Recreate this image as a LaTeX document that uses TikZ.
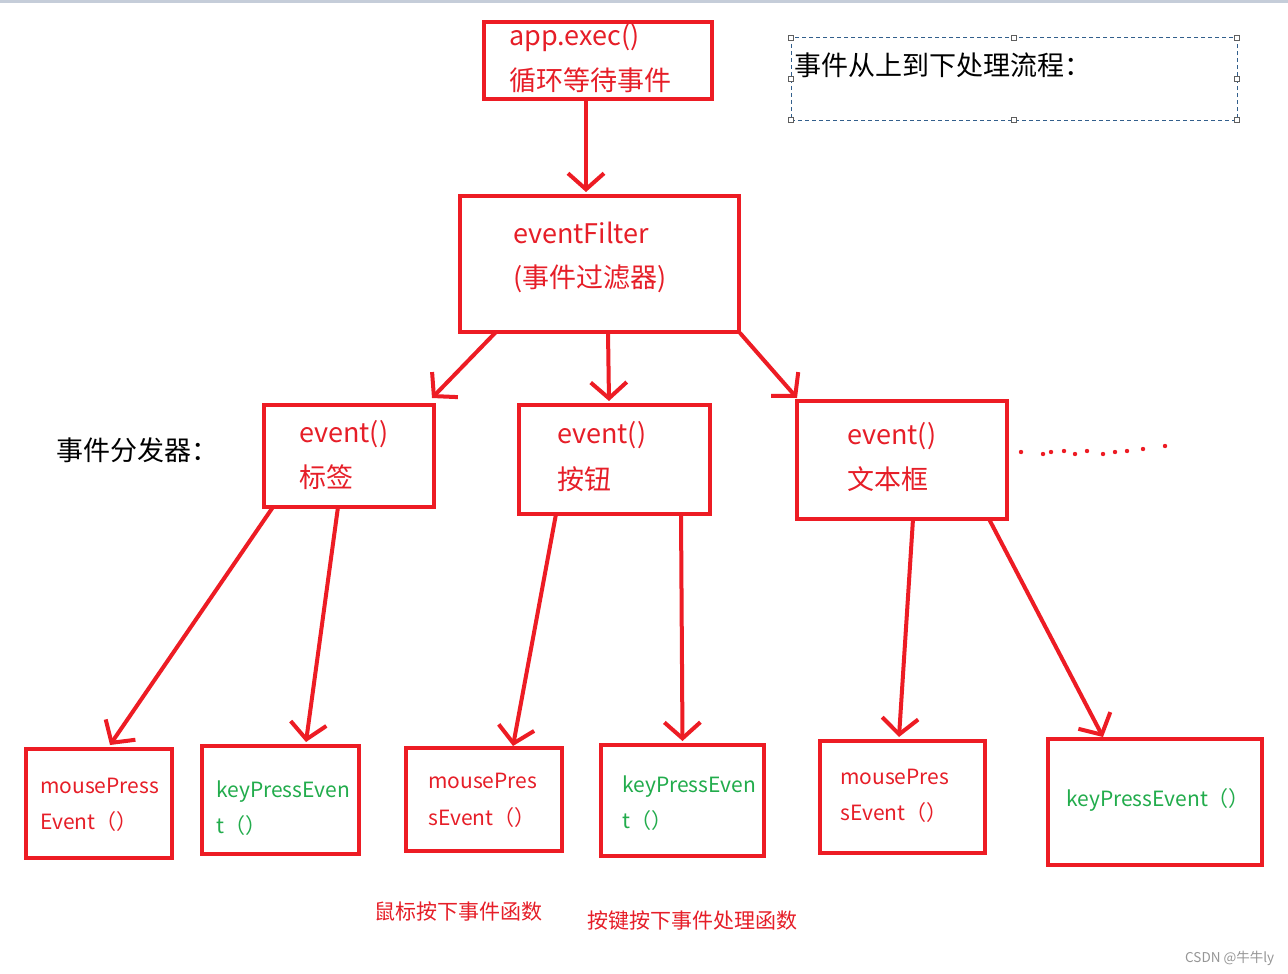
\documentclass[tikz,border=0pt]{standalone}
\usepackage{fontspec}
\setmainfont{Noto Sans CJK SC}
\usetikzlibrary{arrows.meta,calc}
\definecolor{pred}{RGB}{237,28,36}
\definecolor{tred}{RGB}{230,30,40}
\definecolor{tgreen}{RGB}{34,172,76}
\definecolor{topbar}{RGB}{197,205,217}
\definecolor{dashc}{RGB}{50,95,140}
\definecolor{handc}{RGB}{95,95,95}
\definecolor{wmark}{RGB}{150,150,150}
\begin{document}
\begin{tikzpicture}[x=1pt,y=-1pt,
  box/.style={draw=pred, line width=4.4pt, inner sep=0pt, outer sep=0pt, rectangle},
  conn/.style={draw=pred, line width=4pt, -{Straight Barb[length=16pt,width=36pt]}},
  big/.style={font=\fontsize{27}{30}\selectfont, anchor=base west, inner sep=0pt, text=tred},
  small/.style={font=\fontsize{21}{24}\selectfont, anchor=base west, inner sep=0pt, text=tred},
  smallg/.style={small, text=tgreen},
  handle/.style={draw=handc, fill=white, line width=0.8pt, minimum size=5pt, inner sep=0pt, rectangle},
  dot/.style={fill=pred}]
\useasboundingbox (0,0) rectangle (1288,974);
\fill[white] (0,0) rectangle (1288,974);
\fill[topbar] (0,0) rectangle (1288,3);

% boxes
\node[box, minimum width=228pt, minimum height=77pt] (app) at (598,60.5) {};
\node[box, minimum width=279pt, minimum height=136pt] (ef) at (599.5,264) {};
\node[box, minimum width=170pt, minimum height=102pt] (e1) at (349,456) {};
\node[box, minimum width=191pt, minimum height=109pt] (e2) at (614.5,459.5) {};
\node[box, minimum width=210pt, minimum height=118pt] (e3) at (902,460) {};
\node[box, minimum width=146pt, minimum height=109pt] (b1) at (99,803.5) {};
\node[box, minimum width=157pt, minimum height=108pt] (b2) at (280.5,800) {};
\node[box, minimum width=156pt, minimum height=103pt] (b3) at (484,799.5) {};
\node[box, minimum width=163pt, minimum height=111pt] (b4) at (682.5,800.5) {};
\node[box, minimum width=165pt, minimum height=112pt] (b5) at (902.5,797) {};
\node[box, minimum width=214pt, minimum height=126pt] (b6) at (1155,802) {};

% texts in boxes
\node[big] (appT1) at (509,46) {app.exec()};
\node[big] (appT2) at (509,91) {循环等待事件};
\node[big] (efT1) at (513,243) {eventFilter};
\node[big] (efT2) at (513,287) {(事件过滤器)};
\node[big] (e1T1) at (299,442) {event()};
\node[big] (e1T2) at (299,487) {标签};
\node[big] (e2T1) at (557,443) {event()};
\node[big] (e2T2) at (557,489) {按钮};
\node[big] (e3T1) at (847,444) {event()};
\node[big] (e3T2) at (847,489) {文本框};
\node[small] (b1T1) at (40,793) {mousePress};
\node[small] (b1T2) at (40,829) {Event（）};
\node[smallg] (b2T1) at (216,797) {keyPressEven};
\node[smallg] (b2T2) at (216,833) {t（）};
\node[small] (b3T1) at (428,788) {mousePres};
\node[small] (b3T2) at (428,825) {sEvent（）};
\node[smallg] (b4T1) at (622,792) {keyPressEven};
\node[smallg] (b4T2) at (622,828) {t（）};
\node[small] (b5T1) at (840,784) {mousePres};
\node[small] (b5T2) at (840,820) {sEvent（）};
\node[smallg] (b6T1) at (1066,806) {keyPressEvent（）};

% free texts
\node[big, text=black] (disp) at (56,460) {事件分发器：};
\node[small] (lab1) at (374,919) {鼠标按下事件函数};
\node[small] (lab2) at (587,928) {按键按下事件处理函数};
\node[font=\fontsize{13.5}{15}\selectfont, anchor=base west, inner sep=0pt, text=wmark] (wm) at (1185,962) {CSDN @牛牛ly};

% dashed text box
\node[draw=dashc, line width=1pt, dash pattern=on 4pt off 3pt, rectangle, inner sep=0pt, outer sep=0pt,
      minimum width=446pt, minimum height=82pt] (flow) at (1014,79) {};
\node[big, text=black] (flowT) at (794,75) {事件从上到下处理流程：};
\foreach \a in {north west,north,north east,west,east,south west,south,south east}
  \node[handle] at (flow.\a) {};

% connectors
\draw[conn] ([shift={(-12,0)}]app.south) -- ([shift={(-13.5,-4)}]ef.north);
\draw[conn] ([shift={(36,0)}]ef.south west) -- ([shift={(-2,-7)}]e1.north east);
\draw[conn] ([shift={(8.5,0)}]ef.south) -- ([shift={(-5.5,-4)}]e2.north);
\draw[conn] ([shift={(1,1)}]ef.south east) -- ([shift={(0,-3)}]e3.north west);
\draw[conn] ([shift={(9,0)}]e1.south west) -- ([shift={(11,-4)}]b1.north);
\draw[conn] ([shift={(-11,0)}]e1.south) -- ([shift={(25.5,-4)}]b2.north);
\draw[conn] ([shift={(37,0)}]e2.south west) -- ([shift={(29,-2)}]b3.north);
\draw[conn] ([shift={(-29,0)}]e2.south east) -- ([shift={(0,-4)}]b4.north);
\draw[conn] ([shift={(11,0)}]e3.south) -- ([shift={(-3.5,-4)}]b5.north);
\draw[conn] ([shift={(-18,0)}]e3.south east) -- ([shift={(-52,-2)}]b6.north);

% dots
\foreach \x/\y in {1021/452,1043/454,1051/452,1064/451,1075/454,1087/451,1103/454,1115/452,1127/451,1143/449,1165/446}
  \fill[dot] (\x,\y) circle (2.2pt);
\end{tikzpicture}
\end{document}
